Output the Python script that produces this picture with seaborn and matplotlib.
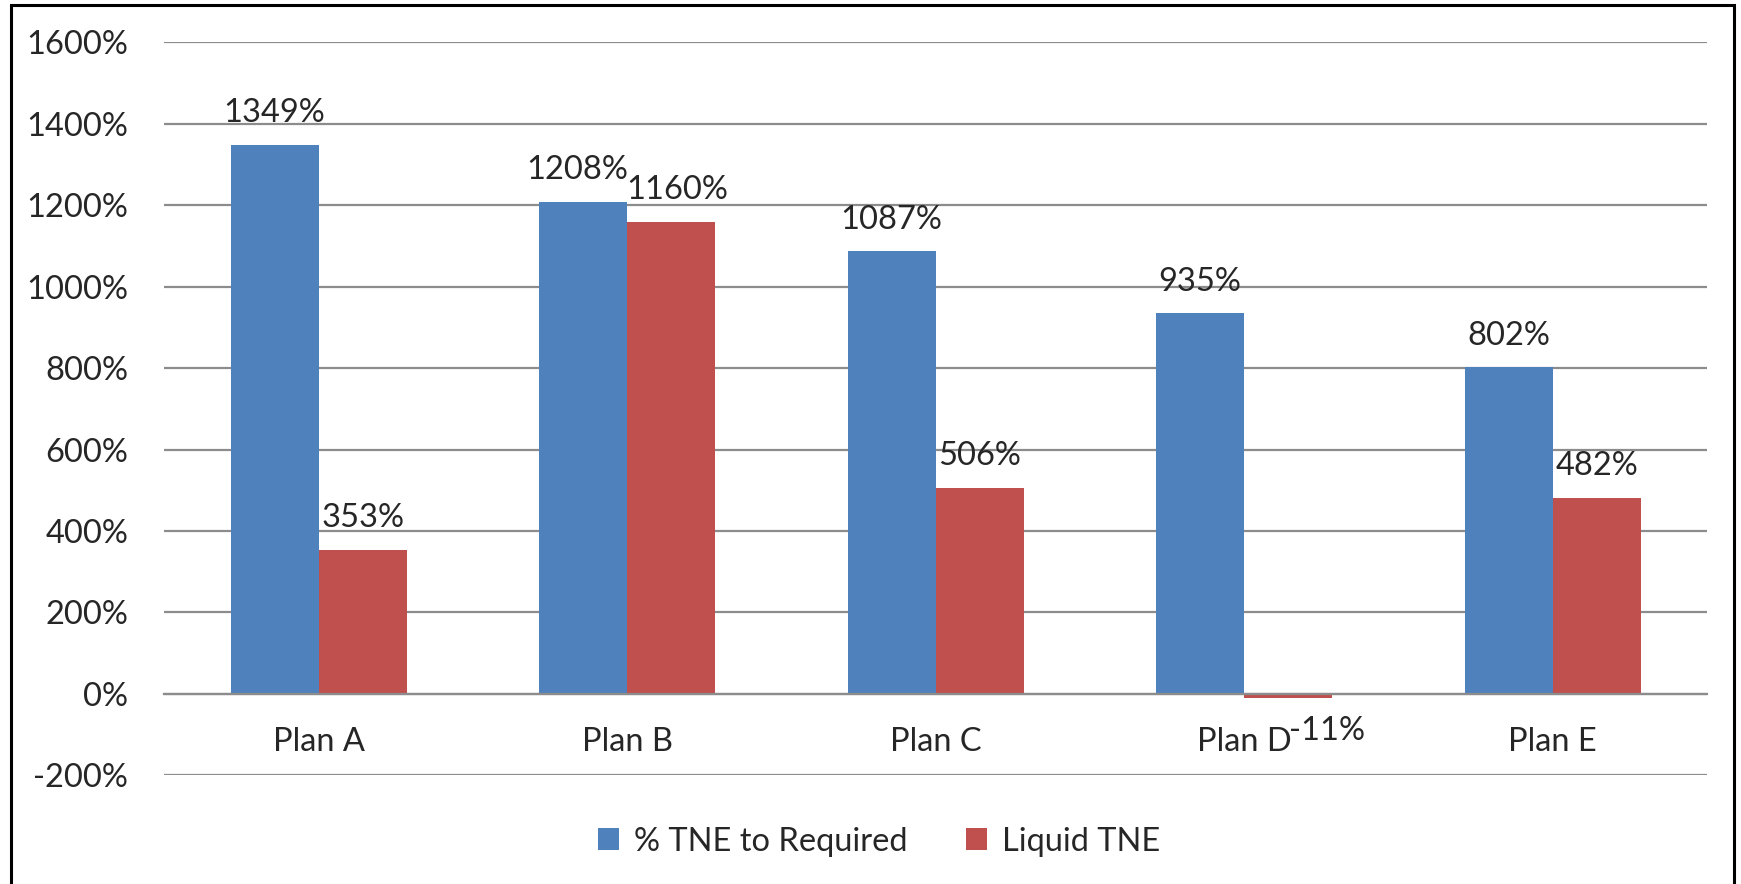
import pandas as pd
import seaborn as sns
import matplotlib.pyplot as plt
from matplotlib.patches import Rectangle

# 차트 데이터
plans = ['Plan A', 'Plan B', 'Plan C', 'Plan D', 'Plan E']
tne_required = [1349, 1208, 1087, 935, 802]
liquid_tne = [353, 1160, 506, -11, 482]
series_names = ['% TNE to Required', 'Liquid TNE']
y_ticks = list(range(-200, 1601, 200))

df = pd.DataFrame({
    'plan': plans * 2,
    'value': tne_required + liquid_tne,
    'series': [series_names[0]] * len(plans) + [series_names[1]] * len(plans),
})

sns.set_style('white')
plt.rcParams['font.family'] = ['Lato', 'DejaVu Sans']
fs = 23.5

fig = plt.figure(figsize=(17.41, 8.84), dpi=100)
ax = fig.add_axes([0.0944, 0.123, 0.886, 0.829])

sns.barplot(data=df, x='plan', y='value', hue='series', palette=['#4F81BD', '#C0504D'],
            width=0.57, saturation=1, linewidth=0, ax=ax, legend=True)

# 격자선과 축 설정
ax.set_ylim(-200, 1600)
ax.set_yticks(y_ticks)
ax.set_yticklabels([f'{t}%' for t in y_ticks], fontsize=fs)
ax.yaxis.grid(True, color='#8C8C8C', linewidth=1.6)
ax.set_axisbelow(True)
ax.set_xlim(-0.5, len(plans) - 0.5)
for s in ['left', 'right', 'top']:
    ax.spines[s].set_visible(False)
ax.spines['bottom'].set_position(('data', 0))
ax.spines['bottom'].set_color('#8C8C8C')
ax.spines['bottom'].set_linewidth(1.6)
ax.tick_params(axis='y', length=0, pad=26)
ax.tick_params(axis='x', length=0, pad=24, labelsize=fs)
ax.set_xlabel('')
ax.set_ylabel('')

# 데이터 레이블 (Plan B 는 겹치지 않게 살짝 벌림)
for k, cont in enumerate(ax.containers):
    anns = ax.bar_label(cont, fmt='%.0f%%', fontsize=fs, padding=12)
    for i, (ann, v) in enumerate(zip(anns, cont.datavalues)):
        if v < 0:
            ann.xyann = (28, -13)
        elif i == 1:
            ann.xyann = (-4 if k == 0 else 4.5, 12)

# 범례
handles, labels = ax.get_legend_handles_labels()
ax.get_legend().remove()
fig.legend(handles, labels, loc='center', bbox_to_anchor=(0.505, 0.048), ncol=2,
           frameon=False, fontsize=fs, handlelength=0.65, handleheight=0.65,
           handletextpad=0.45, columnspacing=1.8)

# 바깥 테두리
fig.patches.append(Rectangle((0.0064, -0.01), 0.9898, 1.004, transform=fig.transFigure,
                             fill=False, edgecolor='black', linewidth=2.2))

fig.savefig('out.png', dpi=100)
